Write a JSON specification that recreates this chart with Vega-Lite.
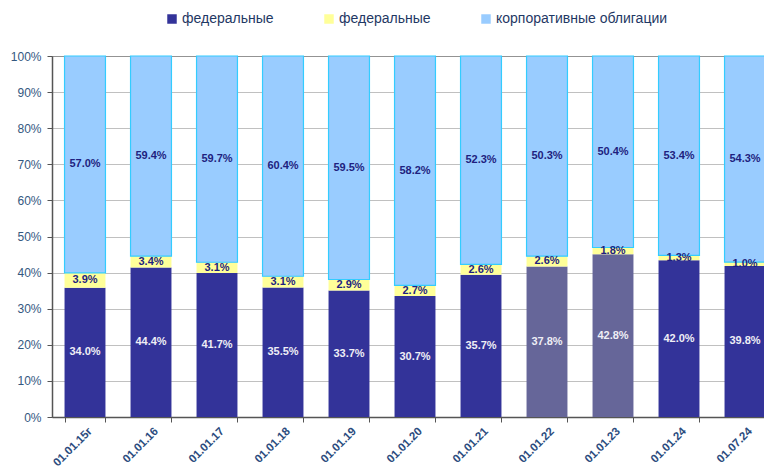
{
  "$schema": "https://vega.github.io/schema/vega-lite/v6.json",
  "autosize": {"type": "none"},
  "padding": {"left": 52, "top": 56, "right": 0, "bottom": 49},
  "width": 726,
  "height": 361,
  "background": "white",
  "config": {
    "view": {"stroke": "#A6A6A6", "strokeWidth": 1},
    "font": "Liberation Sans"
  },
  "data": {
    "values": [
      {"d": "01.01.15г", "s": "1", "v": 0.340},
      {"d": "01.01.15г", "s": "2", "v": 0.039},
      {"d": "01.01.15г", "s": "3", "v": 0.570},
      {"d": "01.01.16", "s": "1", "v": 0.444},
      {"d": "01.01.16", "s": "2", "v": 0.034},
      {"d": "01.01.16", "s": "3", "v": 0.594},
      {"d": "01.01.17", "s": "1", "v": 0.417},
      {"d": "01.01.17", "s": "2", "v": 0.031},
      {"d": "01.01.17", "s": "3", "v": 0.597},
      {"d": "01.01.18", "s": "1", "v": 0.355},
      {"d": "01.01.18", "s": "2", "v": 0.031},
      {"d": "01.01.18", "s": "3", "v": 0.604},
      {"d": "01.01.19", "s": "1", "v": 0.337},
      {"d": "01.01.19", "s": "2", "v": 0.029},
      {"d": "01.01.19", "s": "3", "v": 0.595},
      {"d": "01.01.20", "s": "1", "v": 0.307},
      {"d": "01.01.20", "s": "2", "v": 0.027},
      {"d": "01.01.20", "s": "3", "v": 0.582},
      {"d": "01.01.21", "s": "1", "v": 0.357},
      {"d": "01.01.21", "s": "2", "v": 0.026},
      {"d": "01.01.21", "s": "3", "v": 0.523},
      {"d": "01.01.22", "s": "1", "v": 0.378},
      {"d": "01.01.22", "s": "2", "v": 0.026},
      {"d": "01.01.22", "s": "3", "v": 0.503},
      {"d": "01.01.23", "s": "1", "v": 0.428},
      {"d": "01.01.23", "s": "2", "v": 0.018},
      {"d": "01.01.23", "s": "3", "v": 0.504},
      {"d": "01.01.24", "s": "1", "v": 0.420},
      {"d": "01.01.24", "s": "2", "v": 0.013},
      {"d": "01.01.24", "s": "3", "v": 0.534},
      {"d": "01.07.24", "s": "1", "v": 0.398},
      {"d": "01.07.24", "s": "2", "v": 0.010},
      {"d": "01.07.24", "s": "3", "v": 0.543}
    ]
  },
  "transform": [
    {"stack": "v", "groupby": ["d"], "sort": [{"field": "s", "order": "ascending"}], "offset": "normalize", "as": ["y0", "y1"]},
    {"calculate": "(datum.y0 + datum.y1) / 2", "as": "ym"}
  ],
  "encoding": {
    "x": {
      "field": "d",
      "type": "nominal",
      "sort": null,
      "title": null,
      "scale": {"paddingInner": 0.38, "paddingOuter": 0.19},
      "axis": {
        "labelAngle": -45,
        "labelAlign": "right",
        "labelBaseline": "top",
        "labelFontWeight": "bold",
        "labelFontSize": 11.5,
        "labelColor": "#2B4C7E",
        "labelPadding": 3,
        "labelOffset": 1,
        "tickBand": "extent",
        "tickSize": 5,
        "tickColor": "#555555",
        "domainColor": "#555555",
        "domainWidth": 1.5
      }
    }
  },
  "layer": [
    {
      "mark": {"type": "bar", "strokeWidth": 1.2},
      "encoding": {
        "y": {
          "field": "y0",
          "type": "quantitative",
          "scale": {"domain": [0, 1]},
          "title": null,
          "axis": {
            "values": [0, 0.1, 0.2, 0.3, 0.4, 0.5, 0.6, 0.7, 0.8, 0.9, 1],
            "labelOverlap": false,
            "format": ".0%",
            "labelFontSize": 12,
            "labelColor": "#34587F",
            "labelPadding": 6,
            "tickSize": 5,
            "tickColor": "#555555",
            "domainColor": "#555555",
            "domainWidth": 1.5,
            "gridColor": "#808080",
            "gridDash": [1, 1],
            "gridWidth": 1
          }
        },
        "y2": {"field": "y1"},
        "color": {
          "condition": {"test": "datum.s == '1' && (datum.d == '01.01.22' || datum.d == '01.01.23')", "value": "#666699"},
          "field": "s",
          "type": "nominal",
          "scale": {"domain": ["1", "2", "3"], "range": ["#333399", "#FFFF99", "#99CCFF"]},
          "legend": {
            "title": null,
            "orient": "none",
            "direction": "horizontal",
            "legendX": 113,
            "legendY": -44,
            "symbolType": "square",
            "symbolSize": 90,
            "symbolStrokeWidth": 0,
            "labelFontSize": 14,
            "labelColor": "#1F3864",
            "labelOffset": 3,
            "labelLimit": 300,
            "columnPadding": 48,
            "labelExpr": "datum.label == '3' ? 'корпоративные облигации' : 'федеральные'"
          }
        },
        "stroke": {
          "condition": {"test": "datum.s == '3'", "value": "#33CCFF"},
          "value": null
        }
      }
    },
    {
      "mark": {"type": "text", "fontSize": 11, "fontWeight": "bold", "baseline": "middle"},
      "encoding": {
        "y": {
          "field": "ym",
          "type": "quantitative",
          "axis": {
            "values": [0, 0.1, 0.2, 0.3, 0.4, 0.5, 0.6, 0.7, 0.8, 0.9, 1],
            "labelOverlap": false,
            "format": ".0%",
            "labelFontSize": 12,
            "labelColor": "#34587F",
            "labelPadding": 6,
            "tickSize": 5,
            "tickColor": "#555555",
            "domainColor": "#555555",
            "domainWidth": 1.5,
            "gridColor": "#808080",
            "gridDash": [1, 1],
            "gridWidth": 1
          }
        },
        "text": {"field": "v", "type": "quantitative", "format": ".1%"},
        "color": {
          "condition": {"test": "datum.s == '1'", "value": "#EEEEF5"},
          "value": "#1F1F80"
        }
      }
    }
  ]
}
